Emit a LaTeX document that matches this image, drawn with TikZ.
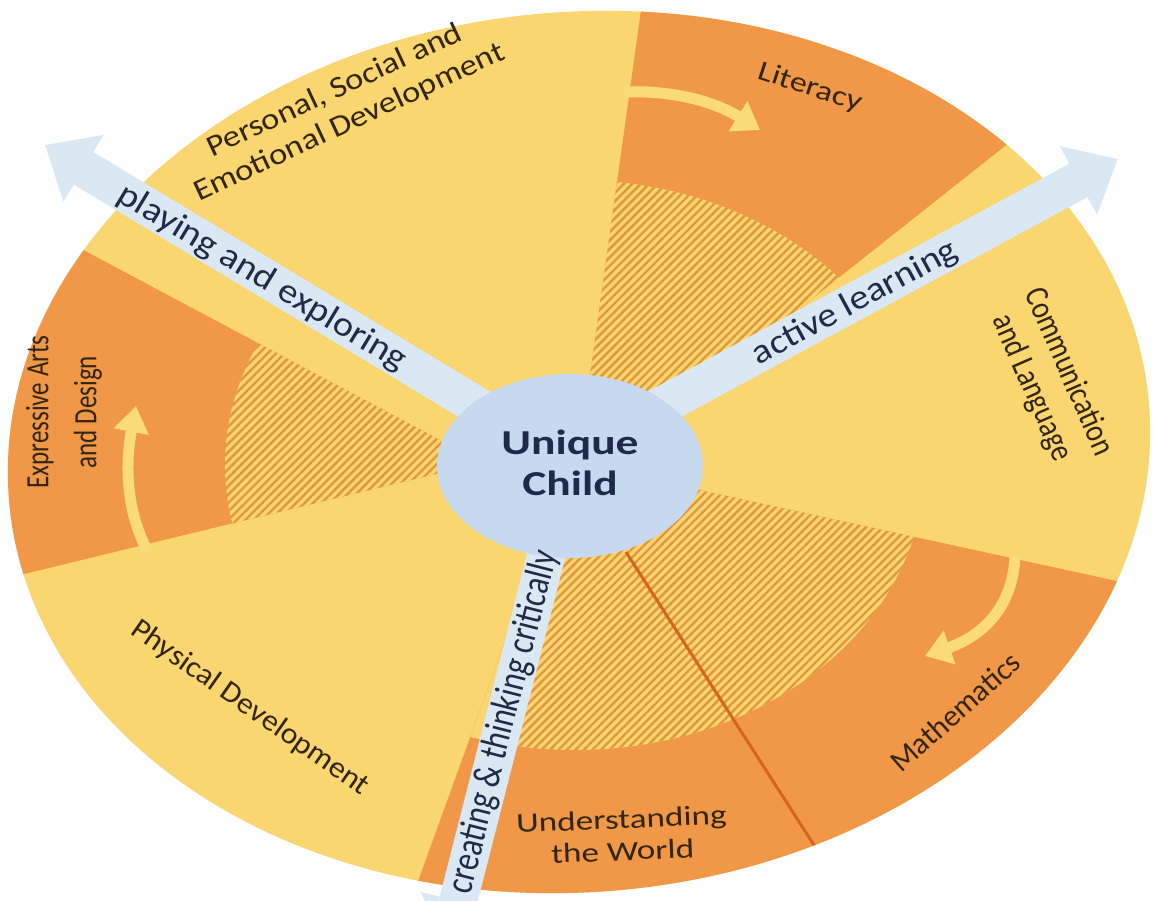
\documentclass[tikz,border=0pt]{standalone}
\usepackage{fontspec}
\setmainfont{Carlito}
\usetikzlibrary{arrows.meta,patterns.meta}
\definecolor{yel}{RGB}{249,214,112}
\definecolor{org}{RGB}{240,152,72}
\definecolor{hatchc}{RGB}{228,150,62}
\definecolor{band}{RGB}{218,232,243}
\definecolor{ctr}{RGB}{199,217,238}
\definecolor{sepc}{RGB}{214,100,30}
\definecolor{txt}{RGB}{50,38,18}
\definecolor{navy}{RGB}{30,42,72}
\definecolor{ayel}{RGB}{250,218,122}
\newcommand{\lf}[3]{\fontsize{#1}{#2}\selectfont\addfontfeature{FakeStretch=#3}}
\begin{document}
\begin{tikzpicture}[x=1pt,y=-1pt,
  lbl/.style={text=txt, align=center, inner sep=0pt},
  alb/.style={text=navy, inner sep=0pt},
  bandarrow/.style={line width=38pt, draw=band, -{Triangle[length=45pt,width=75pt]}},
  curvarrow/.style={line width=11pt, draw=ayel, -{Triangle[length=26pt,width=34pt]}},
  hatchfill/.style={pattern={Lines[angle=45,distance=6pt,line width=2.4pt]}, pattern color=hatchc}
]
\useasboundingbox (0,0) rectangle (1153,901);
\clip (0,0) rectangle (1153,901);
\fill[white] (0,0) rectangle (1153,901);

\coordinate (O) at (579,452);
\coordinate (I) at (575,465);
\fill[yel, rotate around={5:(O)}] (O) ellipse [x radius=572, y radius=440];

\begin{scope}
\clip[rotate around={5:(O)}] (O) ellipse [x radius=572, y radius=440];
% Literacy
\begin{scope}
\clip (588,390) -- (648,-40) -- (1250,-48) -- (640,435) -- cycle;
\fill[org] (0,0) rectangle (1153,901);
\fill[yel] (I) ellipse [x radius=350, y radius=285];
\fill[hatchfill] (I) ellipse [x radius=350, y radius=285];
\end{scope}
% Mathematics
\begin{scope}
\clip (640,477) -- (1300,621) -- (1300,1000) -- (912,1000) -- (626,552) -- cycle;
\fill[org] (0,0) rectangle (1153,901);
\fill[yel] (I) ellipse [x radius=350, y radius=285];
\fill[hatchfill] (I) ellipse [x radius=350, y radius=285];
\end{scope}
% Understanding the World
\begin{scope}
\clip (626,552) -- (912,1000) -- (375,1000) -- (567,470) -- cycle;
\fill[org] (0,0) rectangle (1153,901);
\end{scope}
\begin{scope}
\clip (626,552) -- (912,1000) -- (433,1000) -- (568,470) -- cycle;
\fill[yel] (I) ellipse [x radius=350, y radius=285];
\fill[hatchfill] (I) ellipse [x radius=350, y radius=285];
\end{scope}
\begin{scope}
\clip (567,470) -- (375,1000) -- (433,1000) -- (568,470) -- cycle;
\fill[yel] (I) ellipse [x radius=350, y radius=285];
\end{scope}
% Expressive Arts
\begin{scope}
\clip (460,468) -- (-50,592) -- (-50,179) -- (440,440) -- cycle;
\fill[org] (0,0) rectangle (1153,901);
\fill[yel] (I) ellipse [x radius=350, y radius=285];
\fill[hatchfill] (I) ellipse [x radius=350, y radius=285];
\end{scope}
\draw[sepc, line width=3pt] (626,552) -- (830,870);
\end{scope}

% curved arrows
\draw[curvarrow] (624,92) .. controls (668,90) and (712,100) .. (760,130);
\draw[curvarrow] (148,552) .. controls (128,515) and (124,470) .. (136,406);
\draw[curvarrow] (1015,556) .. controls (1013,605) and (985,635) .. (925,656);

% approach arrows
\coordinate (c1) at (570,462);
\coordinate (t1) at (45,145);
\coordinate (c2) at (578,451);
\coordinate (t2) at (1118,159);
\coordinate (c3) at (568,470);
\coordinate (t3) at (447,945);
\draw[bandarrow] (c1) -- (t1);
\draw[bandarrow] (c2) -- (t2);
\draw[bandarrow] (c3) -- (t3);

\fill[ctr] (570,466) ellipse [x radius=133, y radius=92];

\node[lbl, rotate=25, font=\lf{30}{35}{1.15}] (psed) at (342,107) {Personal, Social and\\Emotional Development};
\node[lbl, rotate=-18, font=\lf{28}{32}{1.22}] (lit) at (810,88) {Literacy};
\node[lbl, rotate=-66.4, font=\lf{33.5}{40}{0.83}] (cl) at (1050,380) {Communication\\and Language};
\node[lbl, rotate=41.5, font=\lf{30.5}{36}{1.0}] (math) at (955,712) {Mathematics};
\node[lbl, rotate=2.3, font=\lf{27.5}{32}{1.28}] (uw) at (622,835) {Understanding\\the World};
\node[lbl, rotate=-35, font=\lf{30}{36}{1.06}] (pd) at (250,708) {Physical Development};
\node[lbl, rotate=90, font=\lf{32.5}{48}{0.77}] (ead) at (64,412) {Expressive Arts\\and Design};
\node[alb, rotate=-31.1, font=\lf{34.8}{40}{1.1}] (pe) at (262,278) {playing and exploring};
\node[alb, rotate=28.4, font=\lf{34.4}{40}{1.12}] (al) at (855,303) {active learning};
\node[alb, rotate=75.7, font=\lf{39}{44}{0.8}] (ct) at (504,722) {creating \& thinking critically};
\node[text=navy, align=center, inner sep=0pt, font=\bfseries\lf{35}{41}{1.3}] (uc) at (570,463) {Unique\\Child};
\end{tikzpicture}
\end{document}
